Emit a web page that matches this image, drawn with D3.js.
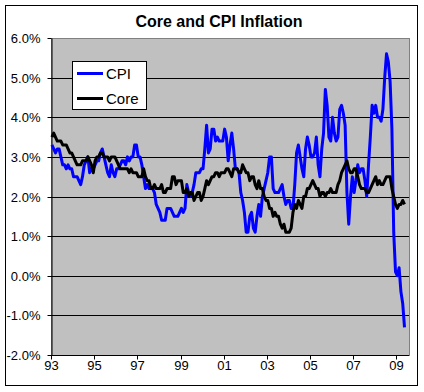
<!DOCTYPE html>
<html>
<head>
<meta charset="utf-8">
<script src="https://cdn.jsdelivr.net/npm/d3@7"></script>
<style>
  body { margin: 0; background: #fff; }
  svg { display: block; font-family: "Liberation Sans", Arial, sans-serif; }
</style>
</head>
<body>
<svg id="chart"></svg>
<script>
// monthly year-over-year % change, Jan 1993 .. May 2009
var startYear = 1993
var cpi = [
  3.3,3.2,3.1,3.2,3.2,3.0,2.8,2.8,2.7,2.8,2.7,2.7,
  2.5,2.5,2.5,2.4,2.3,2.5,2.8,2.9,3.0,2.6,2.7,2.7,
  2.8,2.9,2.9,3.1,3.2,3.0,2.8,2.6,2.5,2.8,2.6,2.5,
  2.7,2.7,2.8,2.9,2.9,2.8,3.0,2.9,3.0,3.0,3.3,3.3,
  3.0,3.0,2.8,2.5,2.2,2.3,2.2,2.2,2.2,2.1,1.8,1.7,
  1.6,1.4,1.4,1.4,1.7,1.7,1.7,1.6,1.5,1.5,1.5,1.6,
  1.7,1.6,1.7,2.3,2.1,2.0,2.1,2.3,2.6,2.6,2.6,2.7,
  2.7,3.2,3.8,3.1,3.2,3.7,3.7,3.4,3.5,3.4,3.4,3.4,
  3.7,3.5,2.9,3.3,3.6,3.2,2.7,2.7,2.6,2.1,1.9,1.6,
  1.1,1.1,1.5,1.6,1.2,1.1,1.5,1.8,1.5,2.0,2.2,2.4,
  2.6,3.0,3.0,2.2,2.1,2.1,2.1,2.2,2.3,2.0,1.8,1.9,
  1.9,1.7,1.7,2.3,3.1,3.3,3.0,2.7,2.5,3.2,3.5,3.3,
  3.0,3.0,3.1,3.5,2.8,2.5,3.2,3.6,4.7,4.3,3.5,3.4,
  4.0,3.6,3.4,3.5,4.2,4.3,4.1,3.8,2.1,1.3,2.0,2.5,
  2.1,2.4,2.8,2.6,2.7,2.7,2.4,2.0,2.8,3.5,4.3,4.1,
  4.3,4.0,4.0,3.9,4.2,5.0,5.6,5.4,4.9,3.7,1.1,0.1,
  0.0,0.2,-0.4,-0.7,-1.3
]
var core = [
  3.5,3.6,3.5,3.4,3.4,3.4,3.3,3.3,3.3,3.2,3.1,3.1,
  3.0,2.9,2.8,2.8,2.8,2.9,2.9,2.9,3.0,2.9,2.8,2.6,
  2.9,3.0,3.0,3.1,3.1,3.0,3.0,3.0,2.9,3.0,3.0,3.0,
  2.9,2.8,2.7,2.7,2.7,2.7,2.7,2.6,2.7,2.6,2.6,2.6,
  2.5,2.5,2.5,2.7,2.5,2.4,2.4,2.2,2.2,2.3,2.2,2.2,
  2.2,2.3,2.1,2.1,2.2,2.2,2.2,2.5,2.5,2.3,2.4,2.4,
  2.4,2.1,2.1,2.2,2.0,2.1,2.1,1.9,2.0,2.1,2.1,1.9,
  2.0,2.2,2.4,2.3,2.4,2.5,2.5,2.6,2.6,2.5,2.6,2.6,
  2.6,2.7,2.7,2.6,2.5,2.7,2.7,2.7,2.6,2.6,2.8,2.7,
  2.6,2.6,2.4,2.5,2.5,2.3,2.2,2.4,2.2,2.2,2.0,1.9,
  1.9,1.7,1.7,1.5,1.6,1.5,1.5,1.3,1.2,1.3,1.1,1.1,
  1.1,1.2,1.6,1.8,1.7,1.9,1.8,1.7,2.0,2.0,2.2,2.2,
  2.3,2.4,2.3,2.2,2.2,2.0,2.1,2.1,2.0,2.1,2.1,2.2,
  2.1,2.1,2.1,2.3,2.4,2.6,2.7,2.8,2.9,2.7,2.6,2.6,
  2.7,2.7,2.5,2.3,2.2,2.2,2.2,2.1,2.1,2.2,2.3,2.4,
  2.5,2.3,2.4,2.3,2.3,2.4,2.5,2.5,2.5,2.2,2.0,1.8,
  1.7,1.8,1.8,1.9,1.8
]
var yTicks = [-2,-1,0,1,2,3,4,5,6]
var xTickLabels = ["93","95","97","99","01","03","05","07","09"]
var seriesNames = ["CPI", "Core"]
var seriesColors = ["#0000ff", "#000000"]

var width = 424
var height = 392
var plotL = 51, plotR = 409, plotT = 38, plotB = 355

var svg = d3.select("#chart")
  .attr("width", width)
  .attr("height", height)

// chart border
svg.append("rect")
  .attr("x", 5.5).attr("y", 5.5)
  .attr("width", 412).attr("height", 380)
  .attr("fill", "#fff").attr("stroke", "#000")

svg.append("text")
  .attr("x", 219).attr("y", 27)
  .attr("text-anchor", "middle")
  .attr("font-size", 16).attr("font-weight", "bold")
  .text("Core and CPI Inflation")

// 199 category slots, data fills first 197
var x = d3.scaleLinear().domain([0, 199]).range([plotL, plotR])
var y = d3.scaleLinear().domain([-2, 6]).range([plotB, plotT])

svg.append("rect")
  .attr("x", plotL + 0.5).attr("y", plotT + 0.5)
  .attr("width", plotR - plotL).attr("height", plotB - plotT)
  .attr("fill", "#c0c0c0")
  .attr("stroke", "#808080")

svg.append("g").selectAll("line")
  .data(yTicks.filter(function(d) { return d > -2 && d < 6 }))
  .enter().append("line")
  .attr("x1", plotL).attr("x2", plotR)
  .attr("y1", function(d) { return Math.round(y(d)) + 0.5 })
  .attr("y2", function(d) { return Math.round(y(d)) + 0.5 })
  .attr("stroke", "#000")

var fmt = function(d) { return (d < 0 ? "-" : "") + Math.abs(d).toFixed(1) + "%" }

var yAxis = svg.append("g")
  .attr("transform", "translate(" + (plotL + 0.5) + ",0)")
  .call(d3.axisLeft(y).tickValues(yTicks).tickFormat(fmt).tickSize(4).tickSizeOuter(0).tickPadding(7))

var xAxis = svg.append("g")
  .attr("transform", "translate(0," + (plotB + 0.5) + ")")
  .call(d3.axisBottom(x)
    .tickValues(d3.range(0, 193, 24))
    .tickFormat(function(d, i) { return xTickLabels[i] })
    .tickSize(4).tickSizeOuter(0).tickPadding(1))

svg.selectAll(".tick line").attr("stroke", "#000")
svg.selectAll(".domain").attr("stroke", "#000")
svg.selectAll(".tick text")
  .attr("font-size", 13)
  .attr("font-family", "Liberation Sans, Arial, sans-serif")
  .attr("fill", "#000")
yAxis.selectAll(".tick").attr("transform", function(d) { return "translate(0," + (Math.round(y(d)) + 0.5) + ")" })
xAxis.selectAll(".tick").attr("transform", function(d) { return "translate(" + (Math.round(x(d)) + 0.5) + ",0)" })
xAxis.select(".domain").attr("d", "M" + plotL + ",0H" + plotR)

var line = d3.line()
  .x(function(d, i) { return x(i + 0.5) })
  .y(function(d) { return y(d) })

var series = [cpi, core]
svg.selectAll("path.series")
  .data(series)
  .enter().append("path")
  .attr("class", "series")
  .attr("d", line)
  .attr("fill", "none")
  .attr("stroke", function(d, i) { return seriesColors[i] })
  .attr("stroke-width", 3)
  .attr("stroke-linejoin", "round")

// legend
var legend = svg.append("g")
legend.append("rect")
  .attr("x", 72.5).attr("y", 61.5)
  .attr("width", 74).attr("height", 48)
  .attr("fill", "#fff").attr("stroke", "#000")
var items = legend.selectAll("g.item")
  .data(seriesNames)
  .enter().append("g")
  .attr("class", "item")
  .attr("transform", function(d, i) { return "translate(0," + (73.5 + i * 25) + ")" })
items.append("line")
  .attr("x1", 77).attr("x2", 103)
  .attr("stroke", function(d, i) { return seriesColors[i] })
  .attr("stroke-width", 3)
items.append("text")
  .attr("x", 106).attr("y", 5.5)
  .attr("font-size", 15)
  .text(function(d) { return d })
</script>
</body>
</html>
